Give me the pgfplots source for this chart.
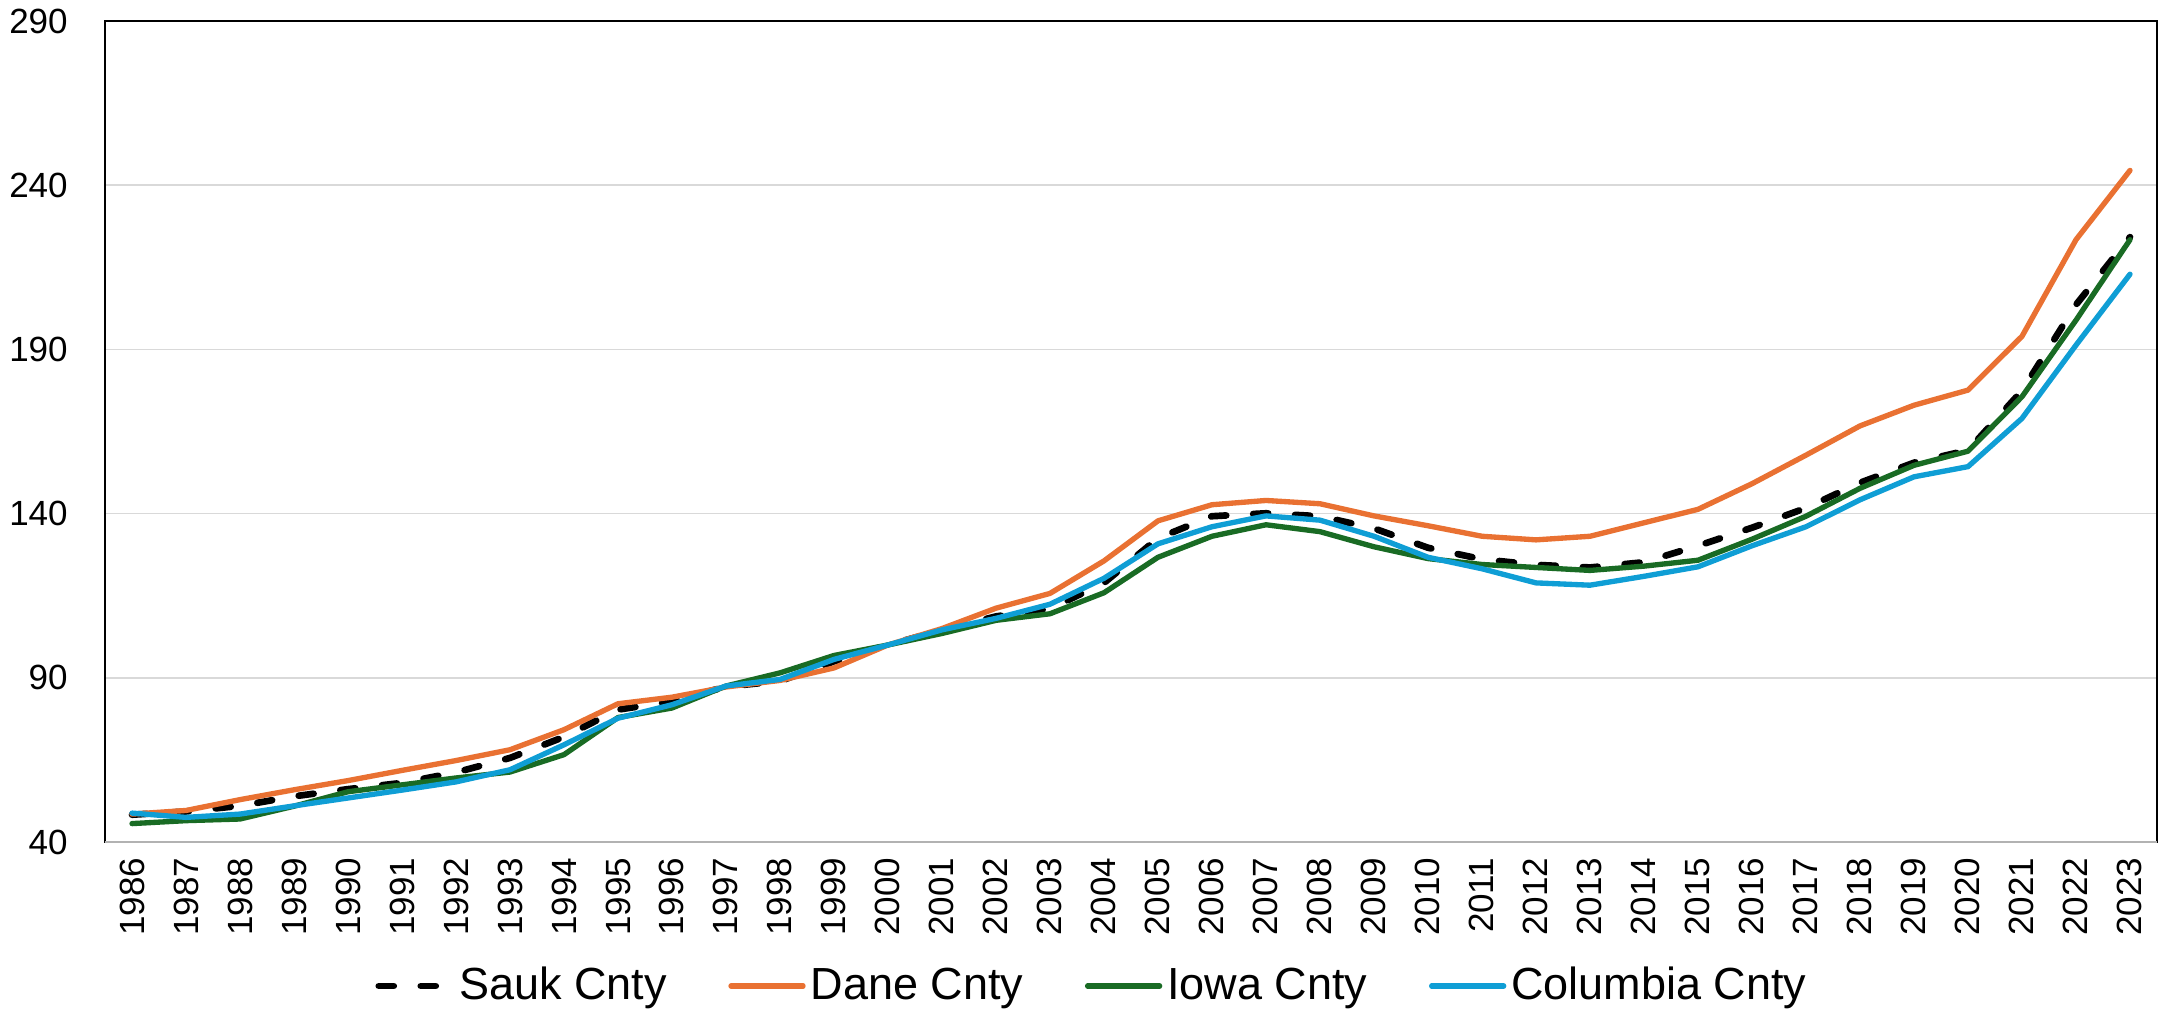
\documentclass[border=0pt]{standalone}
\usepackage{pgfplots}
\pgfplotsset{compat=1.18}
\usepackage{fontspec}
\setmainfont{Liberation Sans}

\definecolor{sauk}{HTML}{000000}
\definecolor{dane}{HTML}{E97132}
\definecolor{iowa}{HTML}{196B24}
\definecolor{columbia}{HTML}{0F9ED5}
\definecolor{gridgray}{HTML}{D9D9D9}

% index values, 2000 = 100
\pgfplotstableread{
year  sauk   dane   iowa   columbia
1986  48.3   48.5   45.6   48.8
1987  49.3   49.6   46.5   47.5
1988  51.0   52.9   47.0   48.5
1989  53.9   55.9   50.9   51.0
1990  56.1   58.7   55.3   53.4
1991  58.0   61.8   57.4   55.8
1992  61.2   64.8   59.5   58.3
1993  65.6   68.1   61.3   62.0
1994  72.0   74.2   66.6   69.6
1995  80.3   82.1   77.9   77.7
1996  82.8   84.1   80.8   81.8
1997  87.3   87.2   87.5   87.5
1998  89.0   89.2   91.5   89.5
1999  95.0   93.0   96.8   95.6
2000  100.0  100.0  100.0  100.0
2001  104.5  105.0  103.5  104.6
2002  108.7  111.2  107.5  108.1
2003  111.0  115.7  109.5  112.4
2004  118.9  125.6  115.9  120.3
2005  132.5  137.8  126.7  130.8
2006  139.2  142.7  133.1  136.0
2007  140.1  144.0  136.6  139.3
2008  139.2  143.0  134.5  138.0
2009  135.5  139.3  129.9  133.1
2010  129.6  136.3  126.3  126.7
2011  126.1  133.1  124.5  123.2
2012  124.4  132.0  123.6  118.9
2013  123.6  133.1  122.7  118.2
2014  125.2  137.2  124.0  120.9
2015  130.2  141.3  125.8  123.8
2016  135.7  149.1  132.2  130.2
2017  141.7  157.8  139.2  136.0
2018  149.4  166.7  147.7  144.2
2019  155.5  173.0  154.7  151.2
2020  159.3  177.6  159.0  154.3
2021  177.4  194.0  175.6  169.0
2022  203.6  223.4  198.9  191.3
2023  224.2  244.5  223.4  212.9
}\datatable

\begin{document}
\begin{tikzpicture}
\useasboundingbox (-31.5pt,-50.1pt) rectangle (619.8pt,252.6pt);
\begin{axis}[
    at={(0,0)}, anchor=south west,
    scale only axis,
    width=615.6pt, height=246.3pt,
    xmin=1985.5, xmax=2023.5,
    ymin=40, ymax=290,
    xtick={1986,...,2023},
    ytick={40,90,...,290},
    ymajorgrids=true,
    major grid style={draw=gridgray, line width=0.5pt},
    major tick length=0pt,
    axis line style={black, line width=0.4pt},
    /pgf/number format/1000 sep={},
    /pgf/number format/assume math mode=true,
    tick label style={font=\fontsize{10.5}{12}\selectfont},
    x tick label style={rotate=90, anchor=east, inner sep=0pt},
    xticklabel shift=4.5pt,
    y tick label style={anchor=east, inner sep=0pt},
    yticklabel shift=11pt,
    legend columns=4,
    legend style={
        at={(0.4817,-0.1754)}, anchor=center,
        draw=none, fill=none,
        font=\fontsize{13.5}{15}\selectfont,
        /tikz/every even column/.append style={column sep=17pt},
        nodes={inner sep=1.5pt},
    },
    legend image code/.code={\draw[#1] (0pt,0pt) -- (21.6pt,0pt);},
    every axis plot/.append style={line join=round, line cap=round},
]
\addplot[sauk, line width=2pt, dash pattern=on 4.5pt off 8.1pt] table[x=year, y=sauk] {\datatable};
\addlegendentry{Sauk Cnty}
\addplot[dane, line width=1.6pt] table[x=year, y=dane] {\datatable};
\addlegendentry{Dane Cnty}
\addplot[iowa, line width=1.6pt] table[x=year, y=iowa] {\datatable};
\addlegendentry{Iowa Cnty}
\addplot[columbia, line width=1.6pt] table[x=year, y=columbia] {\datatable};
\addlegendentry{Columbia Cnty}
\draw[black!30, line width=0.5pt] (rel axis cs:0,0) -- (rel axis cs:1,0);
\end{axis}
\end{tikzpicture}
\end{document}
